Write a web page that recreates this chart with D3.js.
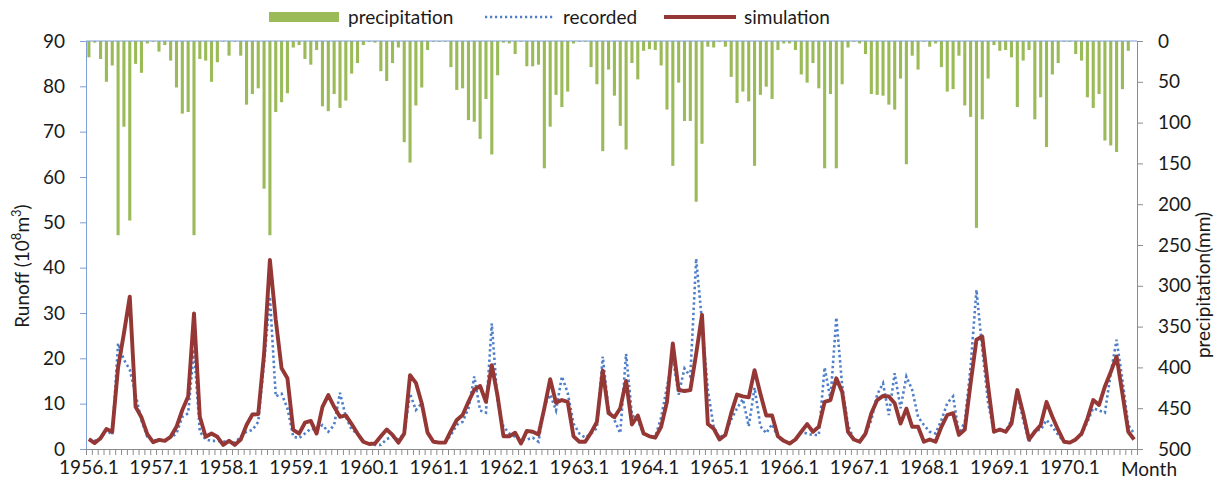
<!DOCTYPE html>
<html>
<head>
<meta charset="utf-8">
<script src="https://cdn.jsdelivr.net/npm/d3@7"></script>
<style>
body { margin: 0; background: #fff; }
text { font-family: Lato, "Open Sans", sans-serif; fill: #1a1a1a; }
</style>
</head>
<body>
<div id="chart-area"></div>
<script>
// monthly values, 1956.1 - 1970.12
var precipitation = [
	20, 2, 22, 50, 30, 238, 105, 220, 28, 39, 3, 1,
	13, 5, 24, 57, 89, 87, 238, 22, 24, 50, 26, 1,
	18, 1, 18, 78, 65, 58, 181, 238, 87, 75, 64, 8,
	5, 22, 29, 11, 80, 86, 65, 82, 73, 40, 27, 5,
	1, 2, 37, 49, 27, 8, 124, 149, 79, 57, 11, 1,
	1, 1, 32, 60, 58, 97, 99, 120, 71, 139, 42, 2,
	3, 16, 1, 31, 31, 29, 156, 105, 66, 81, 62, 3,
	1, 1, 32, 53, 135, 35, 67, 104, 133, 27, 47, 12,
	10, 11, 30, 84, 153, 51, 98, 98, 197, 126, 7, 8,
	1, 7, 44, 76, 62, 74, 153, 66, 56, 71, 11, 3,
	3, 11, 41, 51, 27, 58, 156, 65, 156, 53, 8, 1,
	3, 16, 65, 66, 67, 78, 84, 46, 151, 18, 35, 1,
	7, 3, 32, 62, 59, 18, 79, 93, 229, 96, 46, 5,
	12, 11, 20, 81, 24, 11, 96, 69, 130, 41, 27, 1,
	1, 16, 24, 69, 82, 65, 122, 128, 136, 59, 12, 0
];
var recorded = [
	2.1, 1.8, 2.2, 4.2, 3.1, 23.3, 19.7, 17.5, 12, 6.3, 2.7, 1.8,
	2.1, 1.8, 2.5, 3.4, 7.1, 7.9, 22, 3.8, 2.1, 1.8, 1.8, 1.6,
	1.8, 1.4, 2.7, 3.8, 4.2, 6.0, 18.9, 33.6, 11.6, 12.2, 9, 2.7,
	2.4, 3.4, 4.5, 4.2, 5.3, 3.8, 5.3, 12.4, 7.1, 4.3, 3.4, 1.6,
	1.1, 0.9, 0.9, 2.2, 2.7, 2.1, 3.4, 12.2, 8.6, 10.1, 3.4, 1.6,
	1.4, 1.4, 3.1, 5.3, 6.0, 8.9, 16, 8.5, 8, 27.7, 10.1, 4.9,
	3.4, 2.7, 2.1, 2.1, 2.5, 1.6, 9.5, 12, 8.5, 16, 12.4, 5.6,
	3.4, 2.5, 3.4, 4.6, 20.4, 8.6, 6.4, 3.5, 21, 7.5, 6.4, 3.4,
	2.7, 2.7, 7, 13.7, 20, 12, 17.8, 16, 42, 28, 13, 4.9,
	2.5, 3.4, 6.5, 9, 11, 5, 13.5, 5, 3.5, 5.5, 2.5, 1.8,
	1.2, 2.1, 3.8, 3.4, 3.1, 3.1, 18, 11, 29, 14, 5.3, 2.1,
	1.6, 3.1, 6.4, 12, 14.5, 7.5, 16.7, 9, 16, 13, 7.1, 5.3,
	3.8, 3.4, 6.4, 10.1, 11.6, 3.4, 6.0, 18.2, 35.1, 22, 10.1, 3.8,
	4.2, 3.8, 6.4, 12.4, 6.4, 1.6, 4.2, 4.2, 6.4, 4.9, 3.1, 1.6,
	1.4, 2.1, 3.1, 6.0, 9.0, 8.5, 8, 16.7, 24.1, 15.2, 5.3, 3.4
];
var simulation = [
	2.2, 1.3, 2.4, 4.4, 3.8, 18, 25.5, 33.6, 9.3, 7, 3.3, 1.5,
	2.0, 1.8, 2.7, 4.9, 8.6, 11.6, 29.9, 7.1, 2.7, 3.4, 2.7, 0.9,
	1.8, 0.9, 2.1, 5.3, 7.6, 7.7, 21, 41.7, 28.5, 17.8, 15.6, 4.2,
	3.4, 5.8, 6.2, 3.4, 9.3, 11.9, 9.3, 7.1, 7.4, 5.5, 3.4, 1.6,
	1.1, 1.2, 2.8, 4.3, 3.1, 1.4, 3.4, 16.3, 14.6, 10.1, 3.6, 1.6,
	1.4, 1.4, 4.0, 6.4, 7.5, 10.4, 13.1, 13.9, 10.4, 18.5, 11.6, 2.8,
	2.8, 3.6, 1.2, 4.0, 3.8, 3.2, 9.0, 15.4, 10.2, 10.8, 10.4, 2.8,
	1.6, 1.6, 3.6, 6.0, 17.3, 7.9, 7.0, 9.0, 15.0, 5.4, 7.4, 3.4,
	2.8, 2.5, 4.9, 10.4, 23.3, 13, 12.8, 13, 21, 29.6, 5.5, 4.5,
	2.1, 3.1, 7.9, 12, 11.6, 11.4, 17.4, 12.2, 7.4, 7.4, 2.8, 1.8,
	1.2, 2.1, 3.8, 5.5, 3.8, 4.9, 10.4, 10.8, 15.6, 12.6, 3.8, 2.1,
	1.6, 3.4, 7.9, 10.8, 11.7, 11.6, 10.1, 5.6, 8.9, 4.9, 4.9, 1.6,
	2.1, 1.6, 4.9, 7.5, 7.9, 3.1, 4.3, 14.5, 24.1, 24.8, 13.8, 3.8,
	4.3, 3.8, 5.6, 13.0, 7.9, 2.1, 3.8, 5.3, 10.4, 7.1, 4.2, 1.6,
	1.4, 2.1, 3.4, 6.7, 10.8, 9.7, 13.8, 17.0, 20.4, 12.2, 3.8, 2.1
];
var yearLabels = ["1956.1", "1957.1", "1958.1", "1959.1", "1960.1", "1961.1", "1962.1", "1963.1",
	"1964.1", "1965.1", "1966.1", "1967.1", "1968.1", "1969.1", "1970.1"];
var runoffTicks = [0, 10, 20, 30, 40, 50, 60, 70, 80, 90];
var precipTicks = [0, 50, 100, 150, 200, 250, 300, 350, 400, 450, 500];

var margin = {top: 41, right: 91, bottom: 40, left: 86};
var w = 1228 - margin.left - margin.right;
var h = 489 - margin.top - margin.bottom;
var fs = "19px";

var svg = d3.select("#chart-area").append("svg")
	.attr("width", 1228)
	.attr("height", 489);

var g = svg.append("g")
	.attr("transform", "translate(" + margin.left + "," + margin.top + ")");

var months = d3.range(precipitation.length);

var x = d3.scaleBand().domain(months).range([0, w]).paddingInner(0.47).paddingOuter(0.23);
var xEdge = d3.scaleLinear().domain([0, months.length]).range([0, w]);
var y = d3.scaleLinear().domain([0, 90]).range([h, 0]);
var yP = d3.scaleLinear().domain([0, 500]).range([0, h]);

// bars hanging from the top
g.selectAll("rect.bar")
	.data(months)
	.enter().append("rect")
	.attr("class", "bar")
	.attr("x", function(i){ return x(i); })
	.attr("y", 0)
	.attr("width", x.bandwidth())
	.attr("height", function(i){ return yP(precipitation[i]); })
	.attr("fill", "#9bbb59");

var mid = function(i){ return x(i) + x.bandwidth() / 2; };

var line = d3.line()
	.x(function(d, i){ return mid(i); })
	.y(function(d){ return y(d); });

g.append("path")
	.datum(recorded)
	.attr("d", line)
	.attr("fill", "none")
	.attr("stroke", "#4f7fc8")
	.attr("stroke-width", 2.6)
	.attr("stroke-dasharray", "2.4,2.8");

g.append("path")
	.datum(simulation)
	.attr("d", line)
	.attr("fill", "none")
	.attr("stroke", "#953735")
	.attr("stroke-width", 3.9)
	.attr("stroke-linejoin", "round");

// axes
var leftAxis = g.append("g")
	.call(d3.axisLeft(y).tickValues(runoffTicks).tickSize(6).tickPadding(15));
leftAxis.selectAll("line, path").attr("stroke", "#7f9fd6");

var rightAxis = g.append("g")
	.attr("transform", "translate(" + w + ",0)")
	.call(d3.axisRight(yP).tickValues(precipTicks).tickSize(6).tickPadding(15));
rightAxis.selectAll("line, path").attr("stroke", "#8c8c8c");

g.append("line")
	.attr("x1", 0).attr("x2", w)
	.attr("y1", 0).attr("y2", 0)
	.attr("stroke", "#7f9fd6");

var monthTicks = g.append("g")
	.attr("transform", "translate(0," + h + ")")
	.call(d3.axisBottom(xEdge).tickValues(d3.range(months.length + 1)).tickSize(6).tickFormat(""));
monthTicks.selectAll("line, path").attr("stroke", "#8c8c8c");

var labelAxis = g.append("g")
	.attr("transform", "translate(0," + h + ")")
	.call(d3.axisBottom(x)
		.tickValues(months.filter(function(i){ return i % 12 == 0; }))
		.tickFormat(function(i){ return yearLabels[i / 12]; })
		.tickSize(0).tickPadding(12));
labelAxis.select("path").remove();

svg.selectAll(".tick text")
	.style("font-size", fs)
	.style("font-family", "Lato, 'Open Sans', sans-serif")
	.attr("fill", "#1a1a1a");

svg.append("text")
	.attr("x", 1149).attr("y", 476)
	.attr("text-anchor", "middle")
	.style("font-size", fs)
	.text("Month");

// axis titles
var yTitle = svg.append("text")
	.attr("transform", "translate(29,266) rotate(-90)")
	.attr("text-anchor", "middle")
	.style("font-size", fs);
yTitle.append("tspan").text("Runoff (10");
yTitle.append("tspan").attr("baseline-shift", "super").style("font-size", "13px").text("8");
yTitle.append("tspan").text("m");
yTitle.append("tspan").attr("baseline-shift", "super").style("font-size", "13px").text("3");
yTitle.append("tspan").text(")");

svg.append("text")
	.attr("transform", "translate(1210,285) rotate(-90)")
	.attr("text-anchor", "middle")
	.style("font-size", fs)
	.text("precipitation(mm)");

// legend
var legend = svg.append("g");
legend.append("rect")
	.attr("x", 269).attr("y", 12).attr("width", 70).attr("height", 10)
	.attr("fill", "#9bbb59");
legend.append("text").attr("x", 348).attr("y", 24).style("font-size", fs).text("precipitation");
legend.append("line")
	.attr("x1", 485).attr("x2", 555).attr("y1", 17).attr("y2", 17)
	.attr("stroke", "#4f7fc8").attr("stroke-width", 2.4).attr("stroke-dasharray", "2.2,2.8");
legend.append("text").attr("x", 563).attr("y", 24).style("font-size", fs).text("recorded");
legend.append("line")
	.attr("x1", 664).attr("x2", 736).attr("y1", 17).attr("y2", 17)
	.attr("stroke", "#953735").attr("stroke-width", 3.8);
legend.append("text").attr("x", 744).attr("y", 24).style("font-size", fs).text("simulation");
</script>
</body>
</html>
